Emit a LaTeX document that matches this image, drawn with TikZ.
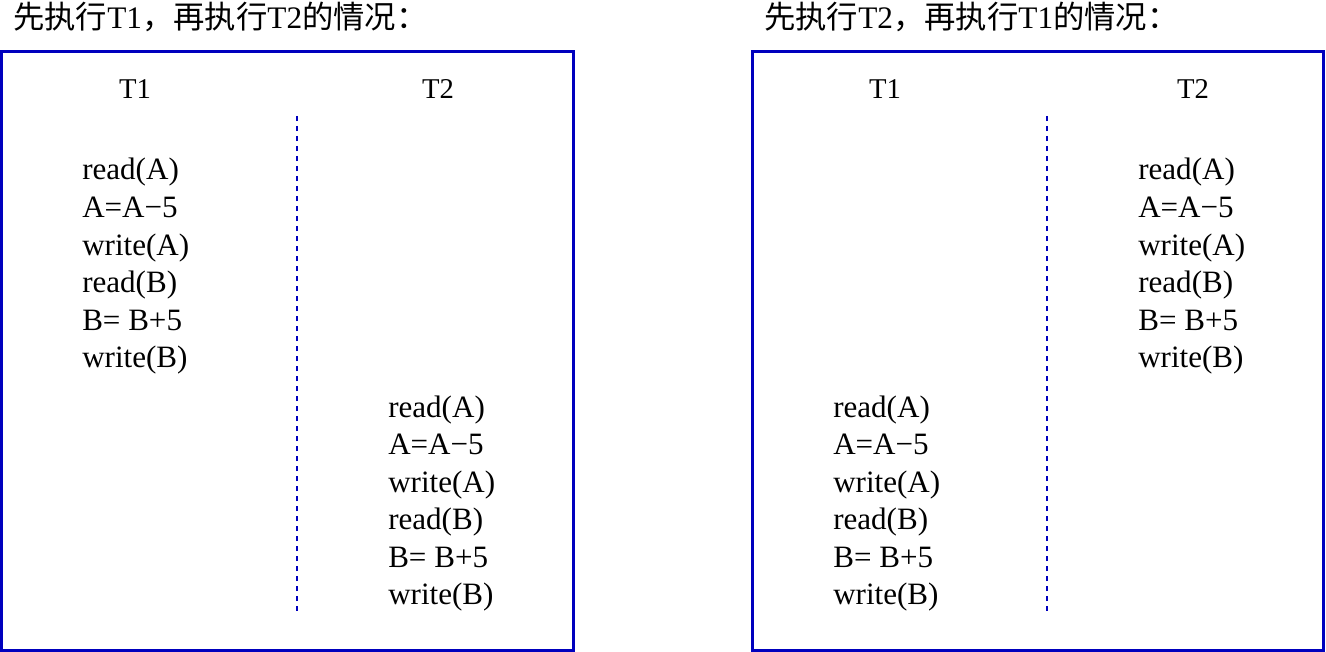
\documentclass[tikz,border=0pt]{standalone}
\usepackage{fontspec}
\setmainfont{Liberation Serif}
\newfontfamily\cjk{Noto Sans CJK SC}
\definecolor{boxblue}{RGB}{0,0,190}
\tikzset{
  frame/.style={draw=boxblue,line width=2.25pt},
  divider/.style={draw=boxblue,line width=1.1pt,dash pattern=on 3.5pt off 4pt},
  op/.style={anchor=base west,inner sep=0pt,font=\fontsize{23.3}{28}\selectfont},
  head/.style={anchor=base,inner sep=0pt,font=\fontsize{21.5}{25}\selectfont},
  title/.style={anchor=base west,inner sep=0pt,font=\fontsize{23.5}{28}\selectfont},
}
\begin{document}
\begin{tikzpicture}[x=0.75pt,y=-0.75pt]
    \useasboundingbox (0,0) rectangle (1326,652);

    % T1 then T2
    \node[title] (titleL) at (13,29) {{\cjk 先执行}T1{\cjk ，再执行}T2{\cjk 的情况：}};
    \draw[frame] (1.5,51.5) rectangle (573.5,650);
    \node[head] (headL1) at (135,99) {T1};
    \node[head] (headL2) at (438,99) {T2};
    \draw[divider] (297,116) -- (297,612);
    \foreach \txt [count=\i] in {read(A),A=A−5,write(A),read(B),B= B+5,write(B)}{
        \node[op] (opL1\i) at (82,{180+37.5*(\i-1)}) {\txt};
        \node[op] (opL2\i) at (388,{417+37.5*(\i-1)}) {\txt};
    }

    % T2 then T1
    \node[title] (titleR) at (764,29) {{\cjk 先执行}T2{\cjk ，再执行}T1{\cjk 的情况：}};
    \draw[frame] (752,51.5) rectangle (1323.5,650);
    \node[head] (headR1) at (885,99) {T1};
    \node[head] (headR2) at (1193,99) {T2};
    \draw[divider] (1047,116) -- (1047,612);
    \foreach \txt [count=\i] in {read(A),A=A−5,write(A),read(B),B= B+5,write(B)}{
        \node[op] (opR2\i) at (1138,{180+37.5*(\i-1)}) {\txt};
        \node[op] (opR1\i) at (833,{417+37.5*(\i-1)}) {\txt};
    }
\end{tikzpicture}
\end{document}
